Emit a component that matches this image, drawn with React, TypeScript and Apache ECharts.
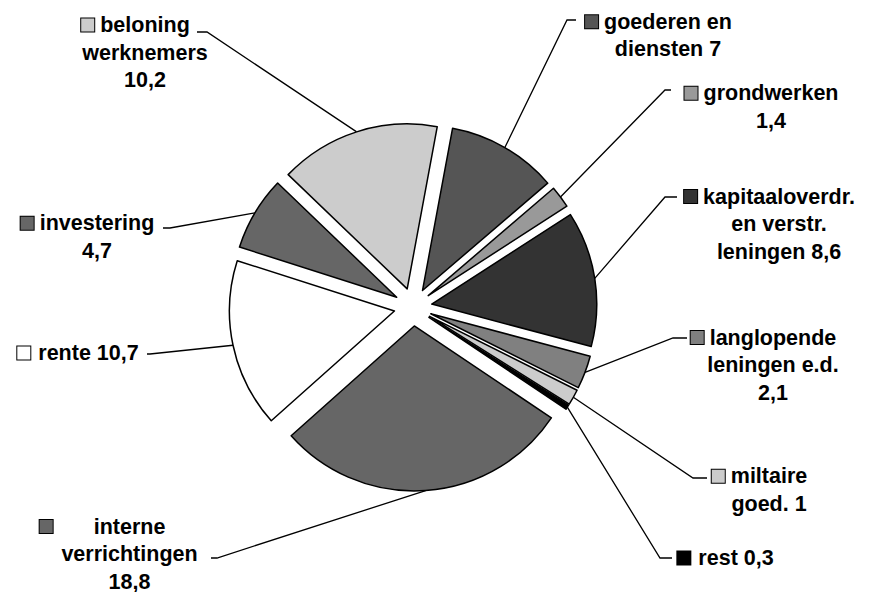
import React, { useEffect, useRef } from 'react';
import * as echarts from 'echarts';

// ---- data ----
const categories = [
  'goederen en diensten',
  'grondwerken',
  'kapitaaloverdr. en verstr. leningen',
  'langlopende leningen e.d.',
  'miltaire goed.',
  'rest',
  'interne verrichtingen',
  'rente',
  'investering',
  'beloning werknemers',
];
const values = [7, 1.4, 8.6, 2.1, 1, 0.3, 18.8, 10.7, 4.7, 10.2];
const labelTemplates = [
  'goederen en\ndiensten {v}',
  'grondwerken\n{v}',
  'kapitaaloverdr.\nen verstr.\nleningen {v}',
  'langlopende\nleningen e.d.\n{v}',
  'miltaire\ngoed. {v}',
  'rest {v}',
  'interne\nverrichtingen\n{v}',
  'rente {v}',
  'investering\n{v}',
  'beloning\nwerknemers\n{v}',
];

// ---- styles / layout ----
const colors = ['#555555', '#999999', '#333333', '#808080', '#cccccc', '#000000', '#666666', '#ffffff', '#666666', '#cccccc'];
const CENTER = [413, 307];
const RADIUS = 165;
const OFFSET = 19;
const ROTATION = 10.5; // degrees clockwise from 12 o'clock where the first slice starts
const labelLayouts = [
  { x: 668, y: 35.5, bx: 567, lx: 576, ly: 20, gap: 6, pad: 19 },
  { x: 771, y: 107, bx: 665, lx: 671, ly: 90, gap: 6, pad: 19 },
  { x: 779, y: 224, bx: 665, lx: 677, ly: 197, gap: 6, pad: 19 },
  { x: 773, y: 365, bx: 673, lx: 687, ly: 338, gap: 6, pad: 19 },
  { x: 769, y: 490, bx: 693, lx: 707, ly: 478, gap: 6, pad: 19 },
  { x: 736, y: 558, bx: 660, lx: 672, ly: 558, gap: 8, pad: 21 },
  { x: 129.5, y: 554, bx: 217, lx: 211, ly: 558, gap: 41, pad: 54 },
  { x: 88.5, y: 353, bx: 150, lx: 147, ly: 354, gap: 8, pad: 21 },
  { x: 97, y: 237, bx: 170, lx: 163, ly: 228, gap: 6, pad: 19 },
  { x: 145, y: 52.5, bx: 207, lx: 197, ly: 32, gap: 6, pad: 19 },
];

const fmt = (v: number) => String(v).replace('.', ',');

export default function App() {
  const ref = useRef<HTMLDivElement>(null);
  useEffect(() => {
    if (!ref.current) return;
    const chart = echarts.init(ref.current, undefined, { renderer: 'svg' });
    const total = values.reduce((a, b) => a + b, 0);
    let cum = 0;
    const series = values.map((v, i) => {
      const mid = ROTATION + ((cum + v / 2) / total) * 360;
      cum += v;
      const rad = (mid * Math.PI) / 180;
      const cx = CENTER[0] + OFFSET * Math.sin(rad);
      const cy = CENTER[1] - OFFSET * Math.cos(rad);
      const L = labelLayouts[i];
      return {
        type: 'pie',
        silent: true,
        animation: false,
        radius: RADIUS,
        center: [cx, cy],
        startAngle: 90 - ROTATION,
        clockwise: true,
        avoidLabelOverlap: false,
        emphasis: { disabled: true },
        label: {
          show: true,
          position: 'outside',
          fontFamily: 'Liberation Sans, Arial, sans-serif',
          fontWeight: 'bold',
          fontSize: 21.5,
          lineHeight: 27.5,
          color: '#000',
          formatter: () => {
            const lines = labelTemplates[i].replace('{v}', fmt(v)).split('\n');
            lines[0] = `{k| }{g| }${lines[0]}{p| }`;
            return lines.join('\n');
          },
          rich: {
            k: { width: 13, height: 13, backgroundColor: colors[i], borderColor: '#000', borderWidth: 1 },
            g: { width: L.gap },
            p: { width: L.pad },
          },
        },
        labelLine: { show: true, length: 10, length2: 10, lineStyle: { color: '#000', width: 1.3 } },
        labelLayout: (p: any) => {
          if (p.dataIndex !== i) return {};
          const start = p.labelLinePoints ? p.labelLinePoints[0] : [cx, cy];
          return {
            x: L.x,
            y: L.y,
            align: 'center',
            verticalAlign: 'middle',
            labelLinePoints: [start, [L.bx, L.ly], [L.lx, L.ly]],
          };
        },
        data: values.map((val, j) => ({
          name: categories[j],
          value: val,
          itemStyle:
            j === i
              ? { color: colors[i], borderColor: '#000', borderWidth: 1.5 }
              : { color: 'rgba(0,0,0,0)', borderWidth: 0 },
          label: { show: j === i },
          labelLine: { show: j === i },
        })),
      };
    });
    chart.setOption({ animation: false, series } as any);
    return () => chart.dispose();
  }, []);
  return (
    <div
      ref={ref}
      style={{ position: 'absolute', left: 0, top: 0, width: 874, height: 592, background: '#fff' }}
    />
  );
}
